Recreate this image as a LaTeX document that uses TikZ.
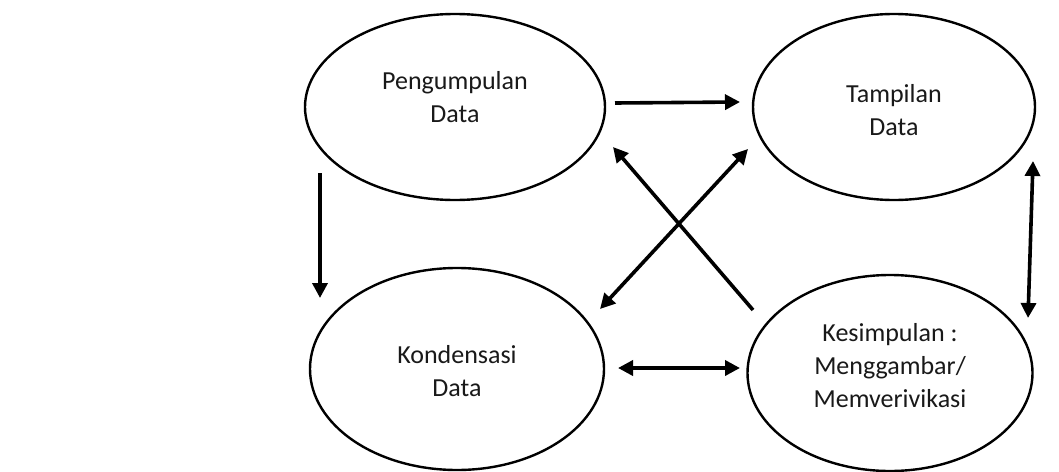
\documentclass[tikz,border=0pt]{standalone}
\usepackage{fontspec}
\setmainfont{Carlito}
\usetikzlibrary{shapes.geometric,arrows.meta,calc}
\tikzset{
  ell/.style={ellipse, draw=black, line width=2.4pt, fill=white, inner sep=0pt},
  txt/.style={align=center, font=\fontsize{26}{33}\selectfont, text=black!90, inner sep=0pt},
  arr/.style={line width=3.6pt, -{Triangle[length=15pt,width=15pt]}},
  darr/.style={line width=3.6pt, {Triangle[length=15pt,width=15pt]}-{Triangle[length=15pt,width=15pt]}}
}
\begin{document}
\begin{tikzpicture}[x=1pt,y=-1pt]
\useasboundingbox[fill=white] (0,0) rectangle (1059,471);
% ellipses
\node[ell, minimum width=300pt, minimum height=186pt] (pd) at (455,107) {};
\node[ell, minimum width=282pt, minimum height=186pt] (td) at (894,107) {};
\node[ell, minimum width=294pt, minimum height=202pt] (kd) at (457,369) {};
\node[ell, minimum width=285pt, minimum height=196pt] (ks) at (890,373) {};
% texts
\node[txt] (pdt) at ($(pd.center)+(0,-10)$) {Pengumpulan\\Data};
\node[txt] (tdt) at ($(td.center)+(0,3)$) {Tampilan\\Data};
\node[txt] (kdt) at ($(kd.center)+(0,2)$) {Kondensasi\\Data};
\node[txt] (kst) at ($(ks.center)+(0,-7)$) {Kesimpulan :\\Menggambar/\\Memverivikasi};
% connectors
\draw[arr] ($(pd.center)+(160,-4)$) -- ($(td.center)+(-154,-5)$);
\draw[arr] ($(pd.center)+(-135,66)$) -- ($(kd.center)+(-137,-71)$);
\draw[darr] ($(kd.center)+(161,-1)$) -- ($(ks.center)+(-150,-5)$);
\draw[darr] ($(td.center)+(139,54)$) -- ($(ks.center)+(138,-55)$);
\draw[darr] ($(kd.center)+(143,-60)$) -- ($(td.center)+(-146,42)$);
\draw[arr] ($(ks.center)+(-137,-63)$) -- ($(pd.center)+(158,40)$);
\end{tikzpicture}
\end{document}
